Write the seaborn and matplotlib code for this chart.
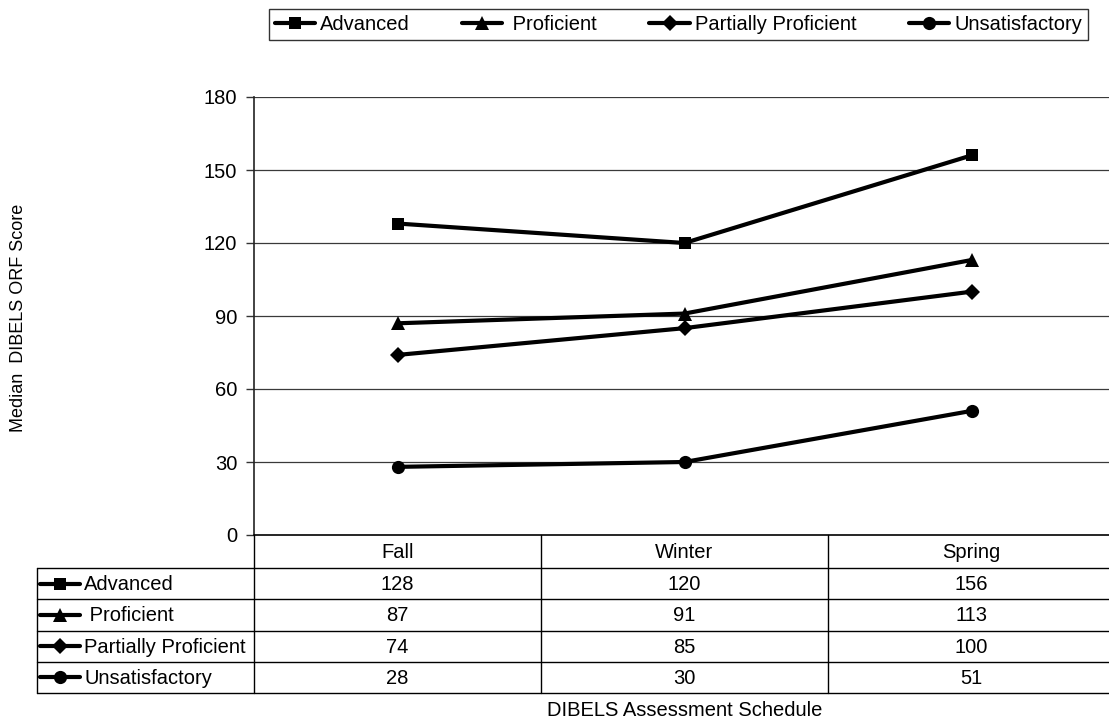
import numpy as np
import matplotlib
matplotlib.use("Agg")
import matplotlib.pyplot as plt
from matplotlib.lines import Line2D
import seaborn as sns
import pandas as pd

# data
seasons = ["Fall", "Winter", "Spring"]
levels = ["Advanced", "Proficient", "Partially Proficient", "Unsatisfactory"]
row_labels = ["Advanced", " Proficient", "Partially Proficient", "Unsatisfactory"]
advanced = [128, 120, 156]
proficient = [87, 91, 113]
partially = [74, 85, 100]
unsatisfactory = [28, 30, 51]
yticks = [0, 30, 60, 90, 120, 150, 180]

values = [advanced, proficient, partially, unsatisfactory]
mk = {"Advanced": "s", "Proficient": "^", "Partially Proficient": "D", "Unsatisfactory": "o"}
msize = {"Advanced": 9, "Proficient": 9.5, "Partially Proficient": 8, "Unsatisfactory": 9.5}

df = pd.DataFrame({
    "season": np.tile(seasons, len(levels)),
    "level": np.repeat(levels, len(seasons)),
    "score": np.concatenate(values),
})

sns.set_style("white")
plt.rcParams["font.family"] = ["Liberation Sans", "DejaVu Sans"]
plt.rcParams["text.color"] = "black"
plt.rcParams["ytick.color"] = "black"
FS = 14.5

W, H = 1109, 719
fig = plt.figure(figsize=(W / 100, H / 100), dpi=100)

def px(x0, y0, x1, y1):
    return [x0 / W, 1 - y1 / H, (x1 - x0) / W, (y1 - y0) / H]

left, right, top, bottom = 254, 1115, 97, 535
ax = fig.add_axes(px(left, top, right, bottom))

sns.lineplot(data=df, x="season", y="score", style="level", markers=mk, dashes=False,
             color="black", linewidth=3, markersize=9, markeredgewidth=0,
             legend=False, ax=ax)
for ln, lv in zip(ax.lines, levels):
    ln.set_markersize(msize[lv])

ax.set_xlim(-0.5, len(seasons) - 0.5)
ax.set_ylim(0, 180)
ax.set_yticks(yticks)
ax.set_yticklabels([str(t) for t in yticks], fontsize=FS, color="black")
ax.set_xticks([])
ax.set_xlabel("")
ax.set_ylabel("")
for t in yticks[1:]:
    ax.axhline(t, color="#3a3a3a", lw=0.9, zorder=0)
for s in ["top", "right", "bottom"]:
    ax.spines[s].set_visible(False)
ax.spines["left"].set_color("#222222")
ax.spines["left"].set_linewidth(1.2)
ax.tick_params(axis="y", direction="out", length=6, width=1, color="#333333", pad=6, left=True)

# legend box on top
handles = [Line2D([0], [0], color="black", lw=3, marker=mk[lv], markersize=msize[lv],
                  markeredgewidth=0) for lv in levels]
leg = fig.legend(handles, row_labels, loc="upper right", ncol=4,
                 bbox_to_anchor=(1088 / W, 1 - 9 / H),
                 fontsize=FS, frameon=True, fancybox=False, edgecolor="black",
                 handlelength=2.0, handletextpad=0.25, borderaxespad=0, borderpad=0.3,
                 columnspacing=2.6)
leg.get_frame().set_linewidth(1.0)

# data table underneath
tax = fig.add_axes([0, 0, 1, 1])
tax.set_xlim(0, W)
tax.set_ylim(H, 0)
tax.axis("off")
lab_left = 37
col_w = (right - left) / len(seasons)
hdr_bot = 568
row_h = 31.25
lc = "black"
tax.plot([left, right], [bottom, bottom], color=lc, lw=1.2)
for i in range(len(levels) + 1):
    y = hdr_bot + i * row_h
    tax.plot([lab_left, right], [y, y], color=lc, lw=1.0)
tax.plot([lab_left, lab_left], [hdr_bot, hdr_bot + len(levels) * row_h], color=lc, lw=1.0)
for j in range(len(seasons)):
    x = left + j * col_w
    tax.plot([x, x], [bottom, hdr_bot + len(levels) * row_h], color=lc, lw=1.0)
    tax.text(x + col_w / 2, (bottom + hdr_bot) / 2 + 1, seasons[j], ha="center", va="center", fontsize=FS)
for i, lv in enumerate(levels):
    yc = hdr_bot + (i + 0.5) * row_h
    tax.plot([lab_left + 3, lab_left + 43], [yc, yc], color="black", lw=3)
    tax.plot([lab_left + 23], [yc], marker=mk[lv], markersize=msize[lv], color="black",
             markeredgewidth=0)
    tax.text(lab_left + 47, yc + 1, row_labels[i], ha="left", va="center", fontsize=FS)
    for j in range(len(seasons)):
        tax.text(left + (j + 0.5) * col_w, yc + 1, str(values[i][j]), ha="center", va="center", fontsize=FS)

fig.text((left + right) / 2 / W, 1 - 710 / H, "DIBELS Assessment Schedule", ha="center", va="center", fontsize=FS)
fig.text(19 / W, 1 - 318 / H, "Median  DIBELS ORF Score", rotation=90, ha="center", va="center", fontsize=13)

fig.savefig("out.png", dpi=100)
